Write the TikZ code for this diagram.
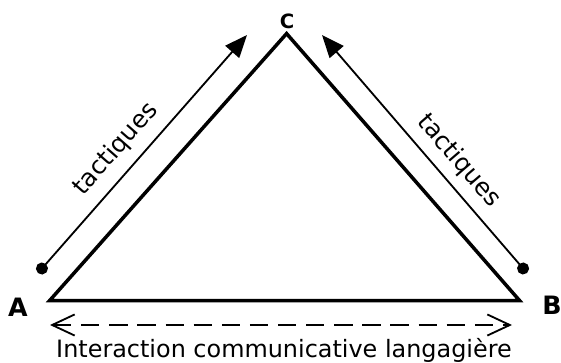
\documentclass[tikz,border=0pt]{standalone}
\usepackage{fontspec}
\setmainfont{DejaVu Sans}
\usetikzlibrary{arrows.meta}
\tikzset{
  side/.style={line width=2.5pt, line join=miter},
  tactic/.style={line width=1.3pt, {Circle[length=8.5pt]}-{Triangle[length=16pt,width=13pt]}},
  interact/.style={line width=1.3pt, dash pattern=on 13pt off 7pt,
    {Straight Barb[length=16pt,width=15pt]}-{Straight Barb[length=16pt,width=15pt]}},
  pole/.style={font=\fontsize{18}{20}\selectfont\bfseries, inner sep=0pt},
  tactlabel/.style={font=\fontsize{17.5}{20}\selectfont, inner sep=0pt}
}
\begin{document}
\begin{tikzpicture}[scale=0.5]
 \useasboundingbox (0,0) rectangle (28.05,18.1);
 % triangle
 \coordinate (cA) at (2.48,3.07);
 \coordinate (cB) at (25.98,3.07);
 \coordinate (cC) at (14.33,16.42);
 \draw[side] (cA) -- (cB) -- (cC) -- cycle;
 \node[pole] (lA) at (0.9,2.75) {A};
 \node[pole] (lB) at (27.6,2.85) {B};
 \node[pole, font=\fontsize{14}{16}\selectfont\bfseries] (lC) at (14.35,17.05) {C};
 % tactiques
 \coordinate (dA) at (1.9,4.45);
 \coordinate (tA) at (12.35,16.35);
 \coordinate (dB) at (26.35,4.45);
 \coordinate (tB) at (16.1,16.35);
 \draw[tactic] (dA) -- (tA);
 \draw[tactic] (dB) -- (tB);
 \node[tactlabel, rotate=48.7] (tacA) at (5.8,10.65) {tactiques};
 \node[tactlabel, rotate=-49.3] (tacB) at (22.95,10.05) {tactiques};
 % interaction
 \coordinate (iL) at (2.5,1.85);
 \coordinate (iR) at (25.6,1.85);
 \draw[interact] (iL) -- (iR);
 \node[font=\fontsize{17}{20}\selectfont, anchor=base, inner sep=0pt] (inter) at (14.2,0.25) {Interaction communicative langagière};
\end{tikzpicture}
\end{document}
